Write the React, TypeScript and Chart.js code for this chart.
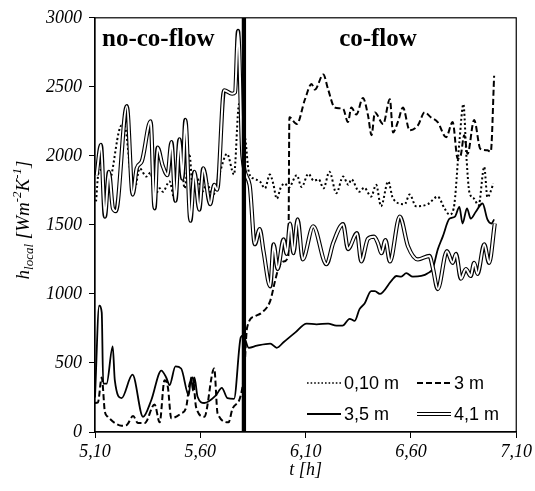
import React, { useEffect, useRef } from 'react';
import { Chart, registerables } from 'chart.js';

Chart.register(...registerables);

// ---- Data ----
const xTickValues = [5.1, 5.6, 6.1, 6.6, 7.1];
const switchTime = 5.807; // start of co-flow
const hRange = [0, 3000];

const t010 = [5.105,5.116,5.132,5.147,5.171,5.226,5.242,5.270,5.289,5.312,5.344,5.364,5.383,5.407,5.422,5.454,5.477,5.509,5.525,5.548,5.564,5.586,5.609,5.633,5.657,5.690,5.727,5.760,5.784,5.814,5.830,5.853,5.883,5.907,5.930,5.946,5.963,5.982,6.001,6.020,6.058,6.081,6.113,6.139,6.162,6.185,6.213,6.246,6.278,6.303,6.317,6.355,6.378,6.411,6.435,6.458,6.492,6.515,6.570,6.594,6.624,6.680,6.727,6.759,6.783,6.803,6.830,6.849,6.864,6.877,6.900,6.921,6.948,6.963,6.992];
const h010 = [1670,1870,1900,1765,1815,2220,2210,1865,1765,1910,1850,1880,1705,1765,1740,1815,1690,1980,1765,2015,1780,1835,1740,1800,1705,1865,2015,1865,2375,2120,1885,1835,1815,1765,1865,1800,1690,1770,1800,1770,1860,1775,1870,1820,1830,1765,1885,1730,1850,1790,1830,1740,1770,1705,1790,1635,1815,1690,1650,1720,1635,1650,1705,1620,1575,1620,2100,2375,1980,1740,1690,1640,1920,1700,1800];

const t3 = [5.100,5.114,5.132,5.147,5.161,5.194,5.226,5.250,5.281,5.304,5.336,5.383,5.407,5.430,5.446,5.462,5.509,5.533,5.548,5.564,5.580,5.619,5.666,5.682,5.734,5.752,5.792,5.808,5.822,5.861,5.892,5.932,5.955,5.971,5.995,6.018,6.023,6.058,6.097,6.128,6.144,6.184,6.207,6.238,6.278,6.301,6.317,6.341,6.372,6.396,6.413,6.429,6.468,6.500,6.515,6.539,6.562,6.594,6.633,6.665,6.694,6.727,6.767,6.798,6.822,6.836,6.853,6.869,6.900,6.930,6.963,6.979,6.995];
const h3 = [210,215,395,145,110,65,45,50,115,65,65,200,70,375,325,100,135,180,340,395,180,110,460,135,70,165,265,425,755,840,865,950,1095,1185,1235,1275,2280,2230,2410,2520,2480,2590,2480,2350,2340,2245,2350,2300,2420,2295,2150,2315,2230,2410,2170,2250,2350,2185,2220,2315,2280,2245,2135,2245,1980,2000,2150,2015,2260,2050,2040,2030,2580];

const t35 = [5.100,5.120,5.132,5.139,5.155,5.184,5.194,5.226,5.278,5.328,5.367,5.415,5.438,5.454,5.482,5.509,5.545,5.556,5.565,5.572,5.587,5.619,5.674,5.702,5.729,5.760,5.792,5.803,5.830,5.869,5.932,5.963,5.995,6.050,6.105,6.152,6.207,6.246,6.275,6.309,6.333,6.356,6.380,6.411,6.429,6.452,6.507,6.531,6.554,6.578,6.609,6.649,6.680,6.704,6.727,6.751,6.783,6.809,6.830,6.845,6.866,6.884,6.908,6.940,6.963,6.982,6.995];
const h35 = [250,915,865,350,350,620,375,245,415,110,230,445,395,340,475,460,265,395,300,395,255,210,265,320,245,240,685,700,610,625,640,610,650,720,785,780,785,770,770,820,805,890,930,1020,1020,1000,1095,1130,1125,1150,1125,1130,1150,1185,1320,1415,1545,1560,1630,1510,1620,1545,1595,1655,1540,1510,1540];

const t41 = [5.108,5.128,5.147,5.166,5.185,5.199,5.251,5.279,5.298,5.322,5.364,5.383,5.397,5.421,5.444,5.463,5.482,5.501,5.515,5.529,5.553,5.572,5.595,5.614,5.647,5.666,5.680,5.713,5.751,5.765,5.779,5.800,5.834,5.859,5.882,5.900,5.932,5.948,5.967,5.995,6.010,6.026,6.042,6.062,6.086,6.136,6.199,6.231,6.278,6.301,6.344,6.364,6.396,6.425,6.444,6.460,6.479,6.500,6.547,6.586,6.633,6.688,6.704,6.727,6.771,6.798,6.814,6.837,6.861,6.884,6.900,6.916,6.948,6.971,6.998];
const h41 = [1860,2080,1560,1885,1620,1600,2360,1720,1910,1960,2250,1620,2060,1930,1860,2100,1675,2120,1835,2260,1530,1885,1610,1910,1650,1790,1755,2475,2450,2460,2905,2000,1790,1360,1470,1310,1055,1360,1180,1395,1290,1510,1295,1540,1250,1490,1215,1370,1505,1325,1440,1235,1400,1415,1365,1295,1390,1235,1560,1345,1250,1275,1190,1035,1310,1225,1290,1110,1180,1130,1225,1145,1360,1225,1510];

const seriesLabels = ['0,10 m', '3 m', '3,5 m', '4,1 m'];
const regionLabels = ['no-co-flow', 'co-flow'];

const pts = (t: number[], h: number[]) => t.map((x, i) => ({ x, y: h[i] }));

const SERIF = '"Liberation Serif", "Times New Roman", serif';
const SANS = '"Liberation Sans", Arial, sans-serif';

const overlay = {
  id: 'overlay',
  beforeDraw(chart: any) {
    const { ctx, width, height } = chart;
    ctx.save();
    ctx.fillStyle = '#fff';
    ctx.fillRect(0, 0, width, height);
    ctx.restore();
  },
  afterDraw(chart: any) {
    const { ctx } = chart;
    const a = chart.chartArea;
    ctx.save();
    // frame
    ctx.strokeStyle = '#000';
    ctx.lineWidth = 1.2;
    ctx.strokeRect(a.left, a.top, a.right - a.left, a.bottom - a.top);

    // region labels
    ctx.fillStyle = '#000';
    ctx.font = `bold 25px ${SERIF}`;
    ctx.textBaseline = 'middle';
    ctx.textAlign = 'left';
    ctx.fillText(regionLabels[0], a.left + 7, a.top + 22);
    ctx.textAlign = 'center';
    ctx.fillText(regionLabels[1], a.left + 283, a.top + 22);

    // legend
    const rows = [a.bottom - 49, a.bottom - 18];
    const cols = [a.left + 212, a.left + 322];
    const swLen = 34;
    const items = [
      { r: 0, c: 0, kind: 'dot' },
      { r: 0, c: 1, kind: 'dash' },
      { r: 1, c: 0, kind: 'solid' },
      { r: 1, c: 1, kind: 'double' },
    ];
    items.forEach((it, i) => {
      const x0 = cols[it.c];
      const y = rows[it.r];
      ctx.save();
      ctx.beginPath();
      ctx.moveTo(x0, y);
      ctx.lineTo(x0 + swLen, y);
      ctx.strokeStyle = '#000';
      if (it.kind === 'dot') {
        ctx.lineWidth = 1.6;
        ctx.setLineDash([1.6, 2]);
        ctx.stroke();
      } else if (it.kind === 'dash') {
        ctx.lineWidth = 2;
        ctx.setLineDash([6, 3]);
        ctx.stroke();
      } else if (it.kind === 'solid') {
        ctx.lineWidth = 2;
        ctx.stroke();
      } else {
        ctx.lineWidth = 4.2;
        ctx.stroke();
        ctx.beginPath();
        ctx.moveTo(x0 - 1, y);
        ctx.lineTo(x0 + swLen + 1, y);
        ctx.strokeStyle = '#fff';
        ctx.lineWidth = 2;
        ctx.stroke();
      }
      ctx.restore();
      ctx.fillStyle = '#000';
      ctx.font = `18px ${SANS}`;
      ctx.textAlign = 'left';
      ctx.textBaseline = 'middle';
      ctx.fillText(seriesLabels[i], x0 + swLen + 3, y + 1);
    });

    // x title
    ctx.font = `italic 18px ${SERIF}`;
    ctx.textAlign = 'center';
    ctx.textBaseline = 'middle';
    ctx.fillText('t [h]', (a.left + a.right) / 2, 470);

    // y title with sub/superscripts
    const big = `italic 19px ${SERIF}`;
    const small = `italic 13px ${SERIF}`;
    const parts = [
      { s: 'h', f: big, dy: 0 },
      { s: 'local', f: small, dy: 4 },
      { s: ' [Wm', f: big, dy: 0 },
      { s: '-2', f: small, dy: -8 },
      { s: 'K', f: big, dy: 0 },
      { s: '-1', f: small, dy: -8 },
      { s: ']', f: big, dy: 0 },
    ];
    let total = 0;
    parts.forEach((p) => {
      ctx.font = p.f;
      total += ctx.measureText(p.s).width;
    });
    ctx.translate(29, 220);
    ctx.rotate(-Math.PI / 2);
    ctx.textAlign = 'left';
    ctx.textBaseline = 'alphabetic';
    let x = -total / 2;
    parts.forEach((p) => {
      ctx.font = p.f;
      ctx.fillText(p.s, x, p.dy);
      x += ctx.measureText(p.s).width;
    });
    ctx.restore();
  },
};

export default function App() {
  const ref = useRef<HTMLCanvasElement | null>(null);

  useEffect(() => {
    document.body.style.margin = '0';
    const canvas = ref.current;
    if (!canvas) return;
    const common = {
      pointRadius: 0,
      pointHoverRadius: 0,
      fill: false,
      cubicInterpolationMode: 'monotone' as const,
    };
    const chart = new Chart(canvas, {
      type: 'line',
      data: {
        datasets: [
          {
            label: 'switch',
            data: [
              { x: switchTime, y: hRange[0] },
              { x: switchTime, y: hRange[1] },
            ],
            borderColor: '#000',
            borderWidth: 4.3,
            pointRadius: 0,
            tension: 0,
            order: 0,
          },
          {
            ...common,
            label: seriesLabels[3] + ' inner',
            data: pts(t41, h41),
            borderColor: '#fff',
            borderWidth: 2,
            order: 1,
          },
          {
            ...common,
            label: seriesLabels[3],
            data: pts(t41, h41),
            borderColor: '#000',
            borderWidth: 4.2,
            order: 2,
          },
          {
            ...common,
            label: seriesLabels[2],
            data: pts(t35, h35),
            borderColor: '#000',
            borderWidth: 1.8,
            order: 3,
          },
          {
            ...common,
            label: seriesLabels[1],
            data: pts(t3, h3),
            borderColor: '#000',
            borderWidth: 2,
            borderDash: [6, 3],
            order: 4,
          },
          {
            ...common,
            label: seriesLabels[0],
            data: pts(t010, h010),
            borderColor: '#000',
            borderWidth: 2,
            borderDash: [2, 2.5],
            order: 5,
          },
        ],
      },
      options: {
        responsive: false,
        animation: false,
        devicePixelRatio: 1,
        layout: { padding: { left: 0, right: 17, top: 15, bottom: 0 } },
        plugins: { legend: { display: false }, tooltip: { enabled: false } },
        scales: {
          x: {
            type: 'linear',
            min: xTickValues[0],
            max: xTickValues[xTickValues.length - 1],
            afterBuildTicks: (s: any) => {
              s.ticks = xTickValues.map((v) => ({ value: v }));
            },
            afterFit: (s: any) => {
              s.height = 59;
            },
            ticks: {
              color: '#000',
              padding: 3,
              maxRotation: 0,
              autoSkip: false,
              font: { family: SERIF, style: 'italic', size: 18 },
              callback: (v: any) => Number(v).toFixed(2).replace('.', ','),
            },
            grid: { drawOnChartArea: false, drawTicks: true, tickLength: 6, color: '#000' },
            border: { color: '#000', width: 1.2 },
          },
          y: {
            type: 'linear',
            min: hRange[0],
            max: hRange[1],
            afterFit: (s: any) => {
              s.width = 95;
            },
            ticks: {
              stepSize: 500,
              color: '#000',
              padding: 7,
              font: { family: SERIF, style: 'italic', size: 18 },
              callback: (v: any) => String(v),
            },
            grid: { drawOnChartArea: false, drawTicks: true, tickLength: 6, color: '#000' },
            border: { color: '#000', width: 1.2 },
          },
        },
      },
      plugins: [overlay],
    });
    return () => chart.destroy();
  }, []);

  return (
    <div style={{ width: 535, height: 491 }}>
      <canvas ref={ref} width={535} height={491} style={{ display: 'block' }} />
    </div>
  );
}
